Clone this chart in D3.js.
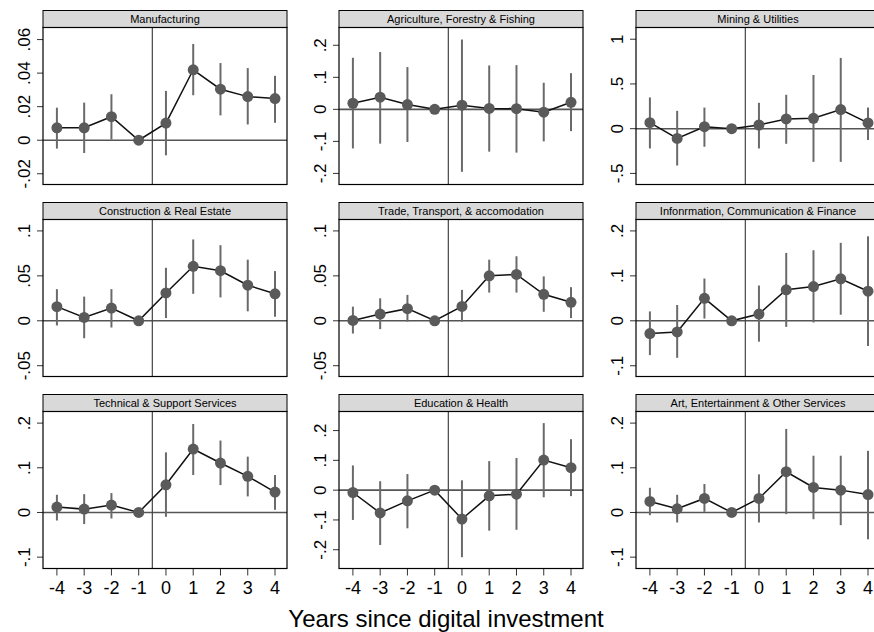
<!DOCTYPE html>
<html>
<head>
<meta charset="utf-8">
<script src="https://cdn.jsdelivr.net/npm/d3@7"></script>
<style>
  body { margin: 0; background: #fff; }
  svg { display: block; }
  .strip-text { font-family: "Liberation Sans", Arial, sans-serif; font-size: 11px; }
  .tick-y { font-family: "Liberation Sans", Arial, sans-serif; font-size: 17px; }
  .tick-x { font-family: "Liberation Sans", Arial, sans-serif; font-size: 18px; }
  .xtitle { font-family: "Liberation Sans", Arial, sans-serif; font-size: 24px; }
</style>
</head>
<body>
<svg></svg>
<script>
const WIDTH = 874;
const HEIGHT = 632;

const years = [-4, -3, -2, -1, 0, 1, 2, 3, 4];

const sectors = [
  "Manufacturing",
  "Agriculture, Forestry & Fishing",
  "Mining & Utilities",
  "Construction & Real Estate",
  "Trade, Transport, & accomodation",
  "Infonrmation, Communication & Finance",
  "Technical & Support Services",
  "Education & Health",
  "Art, Entertainment & Other Services"
];

// point estimates, one row per sector
const estimates = [
  [0.0074, 0.0074, 0.014, 0, 0.0102, 0.042, 0.0304, 0.026, 0.0248],
  [0.019, 0.038, 0.015, 0, 0.013, 0.003, 0.002, -0.009, 0.022],
  [0.067, -0.109, 0.022, 0, 0.041, 0.109, 0.116, 0.214, 0.064],
  [0.0157, 0.0037, 0.0142, 0, 0.031, 0.0606, 0.0557, 0.0396, 0.030],
  [0.0004, 0.0075, 0.0135, 0, 0.016, 0.050, 0.0516, 0.0295, 0.0206],
  [-0.0284, -0.0247, 0.050, 0, 0.015, 0.069, 0.0763, 0.0935, 0.0658],
  [0.012, 0.0075, 0.0165, 0, 0.062, 0.142, 0.1107, 0.0808, 0.0456],
  [-0.0079, -0.0766, -0.036, 0, -0.097, -0.019, -0.0135, 0.101, 0.0755],
  [0.0247, 0.0082, 0.0314, 0, 0.0314, 0.0912, 0.056, 0.050, 0.040]
];

// lower bounds of the confidence intervals
const lower = [
  [-0.005, -0.0076, 0.0004, 0, -0.009, 0.0268, 0.0148, 0.0094, 0.0104],
  [-0.122, -0.107, -0.102, 0, -0.195, -0.132, -0.135, -0.10, -0.068],
  [-0.221, -0.412, -0.202, 0, -0.221, -0.169, -0.371, -0.371, -0.127],
  [-0.0052, -0.0194, -0.0075, 0, 0.003, 0.030, 0.026, 0.0105, 0.0045],
  [-0.0142, -0.0093, -0.001, 0, -0.001, 0.0314, 0.0314, 0.010, 0.003],
  [-0.0763, -0.0823, 0.005, 0, -0.0464, -0.0135, -0.0037, 0.0135, -0.056],
  [-0.018, -0.026, -0.0135, 0, -0.0097, 0.0838, 0.0613, 0.036, 0.006],
  [-0.100, -0.184, -0.128, 0, -0.225, -0.136, -0.133, -0.024, -0.020],
  [-0.006, -0.0224, 0.0015, 0, -0.0224, -0.0037, -0.015, -0.0284, -0.060]
];

// upper bounds of the confidence intervals
const upper = [
  [0.0194, 0.0224, 0.0274, 0, 0.0294, 0.0574, 0.046, 0.043, 0.0384],
  [0.161, 0.179, 0.132, 0, 0.218, 0.137, 0.138, 0.083, 0.113],
  [0.349, 0.199, 0.236, 0, 0.289, 0.379, 0.60, 0.791, 0.236],
  [0.0352, 0.0269, 0.0352, 0, 0.059, 0.0905, 0.0841, 0.068, 0.0553],
  [0.0157, 0.025, 0.0288, 0, 0.0344, 0.068, 0.0718, 0.0494, 0.0374],
  [0.0209, 0.0352, 0.094, 0, 0.0785, 0.151, 0.157, 0.1735, 0.188],
  [0.0396, 0.041, 0.0434, 0, 0.1346, 0.198, 0.161, 0.125, 0.0838],
  [0.083, 0.030, 0.054, 0, 0.033, 0.0975, 0.108, 0.225, 0.171],
  [0.0553, 0.0396, 0.0636, 0, 0.0853, 0.187, 0.127, 0.127, 0.138]
];

// y-axis ranges and ticks per panel
const yRanges = [
  [-0.0264, 0.0672],
  [-0.2346, 0.2555],
  [-0.624, 1.131],
  [-0.062, 0.1127],
  [-0.062, 0.1127],
  [-0.1239, 0.2254],
  [-0.1254, 0.226],
  [-0.263, 0.264],
  [-0.1254, 0.226]
];
const yTicks = [
  [-0.02, 0, 0.02, 0.04, 0.06],
  [-0.2, -0.1, 0, 0.1, 0.2],
  [-0.5, 0, 0.5, 1],
  [-0.05, 0, 0.05, 0.1],
  [-0.05, 0, 0.05, 0.1],
  [-0.1, 0, 0.1, 0.2],
  [-0.1, 0, 0.1, 0.2],
  [-0.2, -0.1, 0, 0.1, 0.2],
  [-0.1, 0, 0.1, 0.2]
];
const xTitle = "Years since digital investment";

const COL_X = [43, 339, 636];
const ROW_Y = [10, 202, 394];
const STRIP_H = 17;
const PANEL_W = 244;
const PLOT_H = 157;

const stataFmt = (v) => {
  if (v === 0) return "0";
  let s = String(+v.toFixed(4));
  return s.replace(/^(-?)0\./, "$1.");
};

const svg = d3.select("svg").attr("width", WIDTH).attr("height", HEIGHT);

const x = d3.scaleLinear().domain([-4.51, 4.44]).range([0, PANEL_W]);

sectors.forEach((name, i) => {
  const col = i % 3, row = Math.floor(i / 3);
  const g = svg.append("g").attr("transform", `translate(${COL_X[col]},${ROW_Y[row]})`);

  // strip header
  g.append("rect")
    .attr("x", 0).attr("y", 0.5)
    .attr("width", PANEL_W).attr("height", STRIP_H)
    .attr("fill", "#d9d9d9").attr("stroke", "#000").attr("stroke-width", 1);
  g.append("text").attr("class", "strip-text")
    .attr("x", PANEL_W / 2).attr("y", STRIP_H / 2 + 4.5)
    .attr("text-anchor", "middle").text(name);

  const plot = g.append("g").attr("transform", `translate(0,${STRIP_H + 0.5})`);
  const y = d3.scaleLinear().domain(yRanges[i]).range([PLOT_H, 0]);

  // y axis ticks and rotated labels
  yTicks[i].forEach((t) => {
    plot.append("line")
      .attr("x1", -6).attr("x2", 0).attr("y1", y(t)).attr("y2", y(t))
      .attr("stroke", "#333").attr("stroke-width", 1);
    plot.append("text").attr("class", "tick-y")
      .attr("transform", `translate(-13,${y(t)}) rotate(-90)`)
      .attr("text-anchor", "middle").text(stataFmt(t));
  });

  // x axis on the bottom row only
  if (row === 2) {
    years.forEach((yr) => {
      plot.append("line")
        .attr("x1", x(yr)).attr("x2", x(yr)).attr("y1", PLOT_H).attr("y2", PLOT_H + 7)
        .attr("stroke", "#333").attr("stroke-width", 1);
      plot.append("text").attr("class", "tick-x")
        .attr("x", x(yr)).attr("y", PLOT_H + 25)
        .attr("text-anchor", "middle").text(yr);
    });
  }

  // reference lines
  plot.append("line")
    .attr("x1", 0).attr("x2", PANEL_W).attr("y1", y(0)).attr("y2", y(0))
    .attr("stroke", "#555").attr("stroke-width", 1.6);
  plot.append("line")
    .attr("x1", x(-0.5)).attr("x2", x(-0.5)).attr("y1", 0).attr("y2", PLOT_H)
    .attr("stroke", "#444").attr("stroke-width", 1.2);

  const pts = years.map((yr, k) => ({ yr, est: estimates[i][k], lo: lower[i][k], hi: upper[i][k] }));

  // confidence intervals
  plot.selectAll(".ci").data(pts.filter((d) => d.hi !== d.lo)).enter()
    .append("line")
    .attr("x1", (d) => x(d.yr)).attr("x2", (d) => x(d.yr))
    .attr("y1", (d) => y(d.lo)).attr("y2", (d) => y(d.hi))
    .attr("stroke", "#6a6a6a").attr("stroke-width", 2);

  // connecting line
  plot.append("path")
    .attr("d", d3.line().x((d) => x(d.yr)).y((d) => y(d.est))(pts))
    .attr("fill", "none").attr("stroke", "#111").attr("stroke-width", 1.5);

  // points
  plot.selectAll(".pt").data(pts).enter()
    .append("circle")
    .attr("cx", (d) => x(d.yr)).attr("cy", (d) => y(d.est)).attr("r", 5.5)
    .attr("fill", "#5a5a5a");

  // frame
  plot.append("rect")
    .attr("x", 0).attr("y", 0).attr("width", PANEL_W).attr("height", PLOT_H)
    .attr("fill", "none").attr("stroke", "#000").attr("stroke-width", 1.2);
});

svg.append("text").attr("class", "xtitle")
  .attr("x", 446).attr("y", 627)
  .attr("text-anchor", "middle").text(xTitle);
</script>
</body>
</html>
